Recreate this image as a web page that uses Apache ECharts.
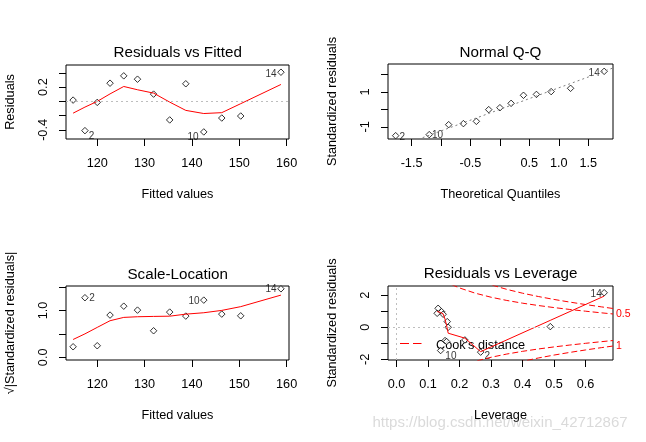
<!DOCTYPE html>
<html><head><meta charset="utf-8">
<script src="https://cdn.jsdelivr.net/npm/echarts@6/dist/echarts.min.js"></script>
<style>html,body{margin:0;padding:0;background:#fff}#c{width:646px;height:442px}</style>
</head><body><div id="c"></div>
<script>
// ---------- data ----------
// Residuals vs Fitted / Scale-Location
const fitted = [114.9,117.4,120.0,122.7,125.6,128.5,131.9,135.3,138.7,142.5,146.3,150.3,158.8];
const residuals = [0.018,-0.41,-0.014,0.255,0.358,0.311,0.102,-0.26,0.247,-0.428,-0.233,-0.205,0.409];
const fittedIds = ['', '2', '', '', '', '', '', '', '', '10', '', '', '14'];
const lowessResid = [-0.165,-0.08,0.0,0.105,0.209,0.163,0.116,-0.01,-0.126,-0.17,-0.158,-0.032,0.237];
const sqrtStdRes = [0.225,1.27,0.247,0.90,1.09,1.006,0.566,0.964,0.879,1.219,0.921,0.885,1.46];
const lowessScale = [0.38,0.50,0.638,0.78,0.851,0.865,0.872,0.877,0.92,0.95,1.0,1.08,1.326];
// Normal Q-Q
const theoQuant = [-1.77,-1.20,-0.87,-0.62,-0.40,-0.19,0,0.19,0.40,0.62,0.87,1.20,1.77];
const stdResSorted = [-1.50,-1.44,-0.87,-0.81,-0.68,-0.01,0.10,0.35,0.81,0.86,1.02,1.21,2.18];
const qqIds = ['2', '10', '', '', '', '', '', '', '', '', '', '', '14'];
const qqLineX = [-1.95, 1.95];
const qqLineY = [-2.40, 2.41];
// Residuals vs Leverage
const leverage = [0.132,0.129,0.143,0.148,0.161,0.164,0.154,0.159,0.140,0.217,0.267,0.488,0.659];
const stdResLev = [1.18,0.87,0.97,0.81,0.35,0.0,-0.83,-0.89,-1.45,-0.79,-1.55,0.04,2.15];
const levIds = ['', '', '', '', '', '', '', '', '10', '', '2', '', '14'];
const lowessLevX = [0.129,0.140,0.148,0.154,0.159,0.164,0.217,0.267,0.488,0.659];
const lowessLevY = [0.98,0.92,0.83,0.50,0.10,-0.37,-0.68,-1.52,0.43,1.94];
const cookLevels = [0.5, 1];
const cookH05 = [0.15,0.18,0.2,0.25,0.3,0.35,0.4,0.45,0.5,0.55,0.6,0.65,0.687];
const cookY05 = [2.915,2.614,2.449,2.121,1.871,1.669,1.5,1.354,1.225,1.108,1.0,0.899,0.827];
const cookH1 = [0.25,0.3,0.35,0.4,0.45,0.5,0.55,0.6,0.65,0.687];
const cookY1 = [3.0,2.646,2.360,2.121,1.915,1.732,1.567,1.414,1.271,1.169];
// ticks and labels
const fittedTicks = [120,130,140,150,160];
const residTicks = [-0.4,-0.2,0,0.2,0.4];
const residLabels = [-0.4,0.2];
const qqXTicks = [-1.5,-1,-0.5,0,0.5,1,1.5];
const qqXLabels = [-1.5,-0.5,0.5,1,1.5];
const qqYTicks = [-1,0,1,2];
const qqYLabels = [-1,1];
const slYTicks = [0,0.5,1,1.5];
const slYLabels = [0,1];
const levXTicks = [0,0.1,0.2,0.3,0.4,0.5,0.6];
const levYTicks = [-2,-1,0,1,2];
const levYLabels = [-2,0,2];

// ---------- styling / layout ----------
const FONT = "'Liberation Sans', Arial, Helvetica, sans-serif";
const FS = 12.7;
const grids = [
  {left:66, top:65, width:223, height:74},
  {left:388, top:64, width:225, height:75},
  {left:66, top:286, width:223, height:74},
  {left:388, top:286, width:225, height:74}
].map(g => Object.assign({show:true, borderColor:'#000', borderWidth:1, backgroundColor:'transparent'}, g));

function xAx(gi, min, max, ticks, labels, fmt, name) {
  return { type:'value', gridIndex:gi, min:min, max:max, position:'bottom',
    name:name, nameLocation:'middle', nameGap:49,
    nameTextStyle:{fontSize:FS, color:'#000', fontFamily:FONT},
    axisLine:{show:false, onZero:false},
    axisTick:{show:true, customValues:ticks, length:7, lineStyle:{color:'#000', width:1}},
    axisLabel:{show:true, customValues:labels, formatter:fmt, margin:18, fontSize:FS, color:'#000', fontFamily:FONT},
    splitLine:{show:false} };
}
function yAx(gi, min, max, ticks, labels, fmt, name) {
  return { type:'value', gridIndex:gi, min:min, max:max, position:'left',
    name:name, nameLocation:'middle', nameGap:49,
    nameTextStyle:{fontSize:FS, color:'#000', fontFamily:FONT},
    axisLine:{show:false, onZero:false},
    axisTick:{show:true, customValues:ticks, length:7, lineStyle:{color:'#000', width:1}},
    axisLabel:{show:true, customValues:labels, formatter:fmt, rotate:90, margin:16, fontSize:FS, color:'#000', fontFamily:FONT},
    splitLine:{show:false} };
}
const f1 = v => v.toFixed(1);
const f0 = v => String(Math.round(v));

const labelOffsets = [
  {'2':[6.7,5.4], '10':[-10.7,5], '14':[-10,1.6]},
  {'2':[6.7,1.7], '10':[8.3,1], '14':[-10,1.6]},
  {'2':[7,0.6], '10':[-9.7,0.7], '14':[-10,0.6]},
  {'14':[-8,1.6], '10':[10.3,5.3], '2':[6.6,4]}
];
function pts(xs, ys, ids, panel) {
  return xs.map((x,i) => {
    const d = {value:[x, ys[i]]};
    if (ids[i]) d.label = {show:true, formatter:ids[i], position:'inside', offset:labelOffsets[panel][ids[i]],
      fontSize:10, color:'#000', fontFamily:FONT, textBorderWidth:0, textBorderColor:'transparent'};
    return d;
  });
}
function scatter(gi, data, extra) {
  return Object.assign({type:'scatter', xAxisIndex:gi, yAxisIndex:gi, data:data, symbol:'diamond', symbolSize:6.5,
    itemStyle:{color:'#fff', borderColor:'#000', borderWidth:1}, silent:true}, extra||{});
}
function line(gi, xs, ys, color, type, yi) {
  return {type:'line', xAxisIndex:gi, yAxisIndex:(yi==null?gi:yi), data:xs.map((x,i)=>[x, ys[i]]), symbol:'none', showSymbol:false,
    lineStyle:{color:color, width:1, type:type}, silent:true, clip:true, z:3};
}
const grayDot = {type:[2,3], color:'#bebebe', width:1};
function zeroLines(arr) {
  return {silent:true, symbol:['none','none'], label:{show:false}, lineStyle:grayDot, data:arr, animation:false};
}
const RED = '#ff0000';
const DASH = [6,3];
const neg = a => a.map(v => -v);

const option = {
  animation:false,
  backgroundColor:'#fff',
  textStyle:{fontFamily:FONT},
  grid:grids,
  xAxis:[
    xAx(0, 113.4, 160.5, fittedTicks, fittedTicks, f0, 'Fitted values'),
    xAx(1, -1.90, 1.92, qqXTicks, qqXLabels, f1, 'Theoretical Quantiles'),
    xAx(2, 113.4, 160.5, fittedTicks, fittedTicks, f0, 'Fitted values'),
    xAx(3, -0.027, 0.687, levXTicks, levXTicks, f1, 'Leverage')
  ],
  yAxis:[
    yAx(0, -0.527, 0.51, residTicks, residLabels, f1, 'Residuals'),
    yAx(1, -1.69, 2.6, qqYTicks, qqYLabels, f0, 'Standardized residuals'),
    yAx(2, -0.057, 1.52, slYTicks, slYLabels, f1, '\u221A|Standardized residuals|'),
    yAx(3, -2.04, 2.57, levYTicks, levYLabels, f0, 'Standardized residuals'),
    { type:'value', gridIndex:3, position:'right', min:-2.04, max:2.57,
      axisLine:{show:false, onZero:false}, axisTick:{show:false}, splitLine:{show:false},
      axisLabel:{show:true, customValues:[cookY05[cookY05.length-1], -cookY1[cookY1.length-1]],
        formatter: v => (v > 0 ? String(cookLevels[0]) : String(cookLevels[1])),
        margin:3, fontSize:10.5, color:RED, fontFamily:FONT} }
  ],
  series:[
    scatter(0, pts(fitted, residuals, fittedIds, 0), {markLine:zeroLines([{yAxis:0}])}),
    line(0, fitted, lowessResid, RED, 'solid'),
    scatter(1, pts(theoQuant, stdResSorted, qqIds, 1)),
    line(1, qqLineX, qqLineY, '#7f7f7f', [2,3]),
    scatter(2, pts(fitted, sqrtStdRes, fittedIds, 2)),
    line(2, fitted, lowessScale, RED, 'solid'),
    scatter(3, pts(leverage, stdResLev, levIds, 3), {markLine:zeroLines([{yAxis:0},{xAxis:0}])}),
    line(3, lowessLevX, lowessLevY, RED, 'solid'),
    line(3, cookH05, cookY05, RED, DASH),
    line(3, cookH05, neg(cookY05), RED, DASH),
    line(3, cookH1, cookY1, RED, DASH),
    line(3, cookH1, neg(cookY1), RED, DASH)
  ],
  graphic:[
    {type:'text', x:177.7, y:53.3, style:{text:'Residuals vs Fitted', fontSize:15.2, fontFamily:FONT, fill:'#000', align:'center', verticalAlign:'middle', textAlign:'center', textVerticalAlign:'middle'}},
    {type:'text', x:500.5, y:53.3, style:{text:'Normal Q-Q', fontSize:15.2, fontFamily:FONT, fill:'#000', align:'center', verticalAlign:'middle', textAlign:'center', textVerticalAlign:'middle'}},
    {type:'text', x:177.7, y:275, style:{text:'Scale-Location', fontSize:15.2, fontFamily:FONT, fill:'#000', align:'center', verticalAlign:'middle', textAlign:'center', textVerticalAlign:'middle'}},
    {type:'text', x:500.5, y:274, style:{text:'Residuals vs Leverage', fontSize:15.2, fontFamily:FONT, fill:'#000', align:'center', verticalAlign:'middle', textAlign:'center', textVerticalAlign:'middle'}},
    {type:'line', shape:{x1:400, y1:343.5, x2:421.5, y2:343.5}, style:{stroke:RED, lineWidth:1, lineDash:[9,4]}},
    {type:'text', x:436, y:345.8, style:{text:"Cook's distance", fontSize:FS, fontFamily:FONT, fill:'#000', align:'left', verticalAlign:'middle', textAlign:'left', textVerticalAlign:'middle'}},
    {type:'text', x:500, y:423, z:100, style:{text:'https://blog.csdn.net/weixin_42712867', fontSize:15, fontFamily:FONT, fill:'rgba(150,150,150,0.35)', align:'center', verticalAlign:'middle', textAlign:'center', textVerticalAlign:'middle'}}
  ]
};
const chart = echarts.init(document.getElementById('c'));
chart.setOption(option);
</script>
</body></html>
